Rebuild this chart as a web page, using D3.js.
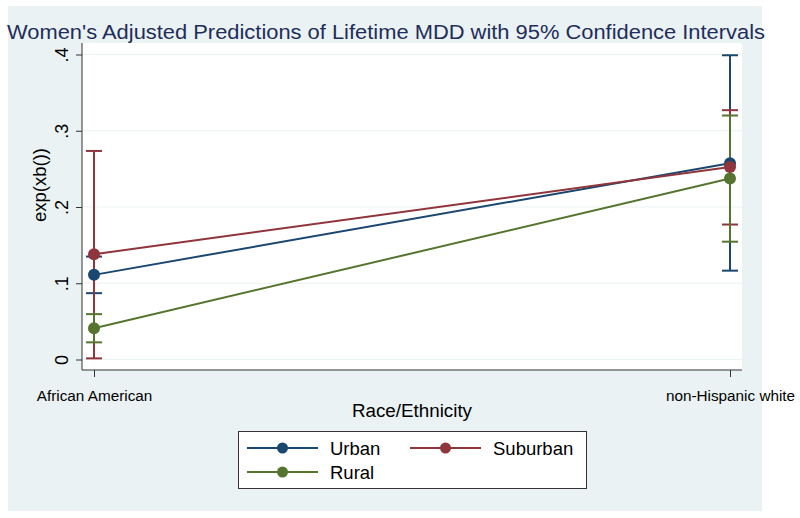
<!DOCTYPE html>
<html><head><meta charset="utf-8">
<script src="https://cdn.jsdelivr.net/npm/d3@7"></script>
<style>body{margin:0;background:#fff}svg{display:block;font-family:Arial,"Liberation Sans",sans-serif}</style>
</head><body>
<script>
const categories = ["African American", "non-Hispanic white"];
const seriesNames = ["Urban", "Suburban", "Rural"];
const seriesColors = ["#1a476f", "#90353b", "#55752f"];
const urbanValues = [0.111, 0.2575];
const urbanLower = [0.087, 0.1165];
const urbanUpper = [0.135, 0.399];
const suburbanValues = [0.138, 0.2525];
const suburbanLower = [0.0015, 0.177];
const suburbanUpper = [0.2735, 0.327];
const ruralValues = [0.041, 0.2375];
const ruralLower = [0.0225, 0.1545];
const ruralUpper = [0.0595, 0.320];
const yTicks = [0, 0.1, 0.2, 0.3, 0.4];
const yTickLabels = ["0", ".1", ".2", ".3", ".4"];
const titleText = "Women's Adjusted Predictions of Lifetime MDD with 95% Confidence Intervals";
const xTitle = "Race/Ethnicity";
const yTitle = "exp(xb())";

const series = [
  {name: seriesNames[0], color: seriesColors[0], v: urbanValues, lo: urbanLower, hi: urbanUpper},
  {name: seriesNames[1], color: seriesColors[1], v: suburbanValues, lo: suburbanLower, hi: suburbanUpper},
  {name: seriesNames[2], color: seriesColors[2], v: ruralValues, lo: ruralLower, hi: ruralUpper}
];

const W = 800, H = 518;
const svg = d3.select("body").append("svg").attr("width", W).attr("height", H);
const bg = "#eaf2f3";
svg.append("rect").attr("x", 8).attr("y", 6).attr("width", 754).attr("height", 505).attr("fill", bg);

const plot = {l: 82, r: 742, t: 43, b: 370};
svg.append("rect").attr("x", plot.l).attr("y", plot.t).attr("width", plot.r - plot.l).attr("height", plot.b - plot.t).attr("fill", "#fff");

const x = d3.scalePoint().domain(categories).range([94, 730]);
const y = d3.scaleLinear().domain([0, 0.4]).range([359.5, 54.5]);

// grid
svg.append("g").selectAll("line").data(yTicks).join("line")
  .attr("x1", plot.l).attr("x2", plot.r).attr("y1", d => y(d)).attr("y2", d => y(d))
  .attr("stroke", bg).attr("stroke-width", 1.2);

// y axis
const yAxis = svg.append("g").attr("transform", `translate(${plot.l},0)`)
  .call(d3.axisLeft(y).tickValues(yTicks).tickFormat((d, i) => yTickLabels[i]).tickSize(6).tickPadding(0));
yAxis.select(".domain").attr("d", `M0,${plot.t}V${plot.b}`).attr("stroke", "#333");
yAxis.selectAll(".tick line").attr("stroke", "#333");
yAxis.selectAll(".tick text").attr("font-size", 18).attr("fill", "#000")
  .attr("text-anchor", "middle").attr("x", 0).attr("dy", 0)
  .attr("transform", "translate(-14,0) rotate(-90)").attr("dominant-baseline", "auto");

// x axis
const xAxis = svg.append("g").attr("transform", `translate(0,${plot.b})`)
  .call(d3.axisBottom(x).tickSize(7).tickPadding(13));
xAxis.select(".domain").attr("d", `M${plot.l},0H${plot.r}`).attr("stroke", "#333");
xAxis.selectAll(".tick line").attr("stroke", "#333");
xAxis.selectAll(".tick text").attr("font-size", 15.3).attr("fill", "#000");

// titles
svg.append("text").attr("x", 386).attr("y", 39).attr("text-anchor", "middle")
  .attr("font-size", 20.5).attr("fill", "#1e2d59")
  .attr("textLength", 758).attr("lengthAdjust", "spacingAndGlyphs").text(titleText);
svg.append("text").attr("x", 412).attr("y", 417).attr("text-anchor", "middle")
  .attr("font-size", 18.8).attr("fill", "#000").text(xTitle);
svg.append("text").attr("transform", "translate(46,185) rotate(-90)").attr("text-anchor", "middle")
  .attr("font-size", 18.5).attr("fill", "#000").text(yTitle);

// CIs
const capW = 8;
series.forEach(s => {
  const g = svg.append("g").attr("stroke", s.color).attr("stroke-width", 2);
  categories.forEach((c, i) => {
    const cx = x(c);
    g.append("line").attr("x1", cx).attr("x2", cx).attr("y1", y(s.lo[i])).attr("y2", y(s.hi[i]));
    g.append("line").attr("x1", cx - capW).attr("x2", cx + capW).attr("y1", y(s.lo[i])).attr("y2", y(s.lo[i]));
    g.append("line").attr("x1", cx - capW).attr("x2", cx + capW).attr("y1", y(s.hi[i])).attr("y2", y(s.hi[i]));
  });
});
// lines + markers
const line = d3.line().x((d, i) => x(categories[i])).y(d => y(d));
series.forEach(s => {
  svg.append("path").attr("d", line(s.v)).attr("fill", "none").attr("stroke", s.color).attr("stroke-width", 2);
});
series.forEach(s => {
  svg.append("g").selectAll("circle").data(s.v).join("circle")
    .attr("cx", (d, i) => x(categories[i])).attr("cy", d => y(d)).attr("r", 6).attr("fill", s.color);
});

// legend
svg.append("rect").attr("x", 238.5).attr("y", 431.5).attr("width", 348).attr("height", 57)
  .attr("fill", "#fff").attr("stroke", "#333").attr("stroke-width", 1);
const legPos = [{x: 247, y: 448}, {x: 410, y: 448}, {x: 247, y: 472}];
series.forEach((s, i) => {
  const p = legPos[i];
  svg.append("line").attr("x1", p.x).attr("x2", p.x + 71).attr("y1", p.y).attr("y2", p.y)
    .attr("stroke", s.color).attr("stroke-width", 2);
  svg.append("circle").attr("cx", p.x + 35.5).attr("cy", p.y).attr("r", 5.5).attr("fill", s.color);
  svg.append("text").attr("x", p.x + 83).attr("y", p.y + 6.5).attr("font-size", 18.5).attr("fill", "#000").text(s.name);
});
</script>
</body></html>
